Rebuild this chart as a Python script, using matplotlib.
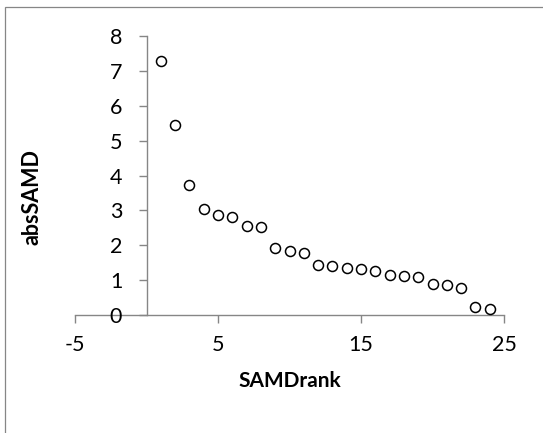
import numpy as np
import matplotlib
matplotlib.use("Agg")
import matplotlib.pyplot as plt
from matplotlib.patches import Rectangle

plt.rcParams['font.family'] = ['Lato', 'DejaVu Sans']
plt.rcParams['axes.unicode_minus'] = False

# data
samd_rank = list(range(1, 25))
abs_samd = [7.28, 5.44, 3.72, 3.03, 2.87, 2.80, 2.54, 2.52, 1.92, 1.83, 1.78,
            1.43, 1.41, 1.36, 1.31, 1.27, 1.14, 1.12, 1.08, 0.89, 0.85, 0.77,
            0.24, 0.16]

x_ticks = [-5, 5, 15, 25]
y_ticks = list(range(0, 9))

axis_col = '#868686'

fig = plt.figure(figsize=(5.43, 4.33), dpi=100)
# chart area border (only top/left visible in the crop)
fig.patches.append(Rectangle((5/543, -0.1), 1.1, 1 - 7/433 + 0.1, transform=fig.transFigure,
                             fill=False, edgecolor=axis_col, lw=0.9))

ax = fig.add_axes([75/543, 1 - 315/433, 429/543, 279/433])
ax.plot(samd_rank, abs_samd, 'o', ms=7.2, mfc='white', mec='black', mew=1.1, zorder=3)

ax.set_xlim(-5, 25)
ax.set_ylim(0, 8)
ax.set_xticks(x_ticks)
ax.set_yticks(y_ticks)

for s in ['top', 'right']:
    ax.spines[s].set_visible(False)
ax.spines['left'].set_position(('data', 0))
for s in ['left', 'bottom']:
    ax.spines[s].set_color(axis_col)
    ax.spines[s].set_linewidth(1.0)
    ax.spines[s].set_zorder(1)

ax.tick_params(axis='both', colors=axis_col, labelcolor='black', labelsize=15.5,
               length=5.5, width=1.0)
ax.tick_params(axis='y', pad=12)
ax.tick_params(axis='x', pad=9)

fig.text(290/543, 1 - 381/433, 'SAMDrank', ha='center', va='center',
         fontsize=15, fontweight='bold')
fig.text(32/543, 1 - 197/433, 'absSAMD', ha='center', va='center',
         rotation=90, fontsize=15.5, fontweight='bold')

fig.savefig('out.png', dpi=100)
